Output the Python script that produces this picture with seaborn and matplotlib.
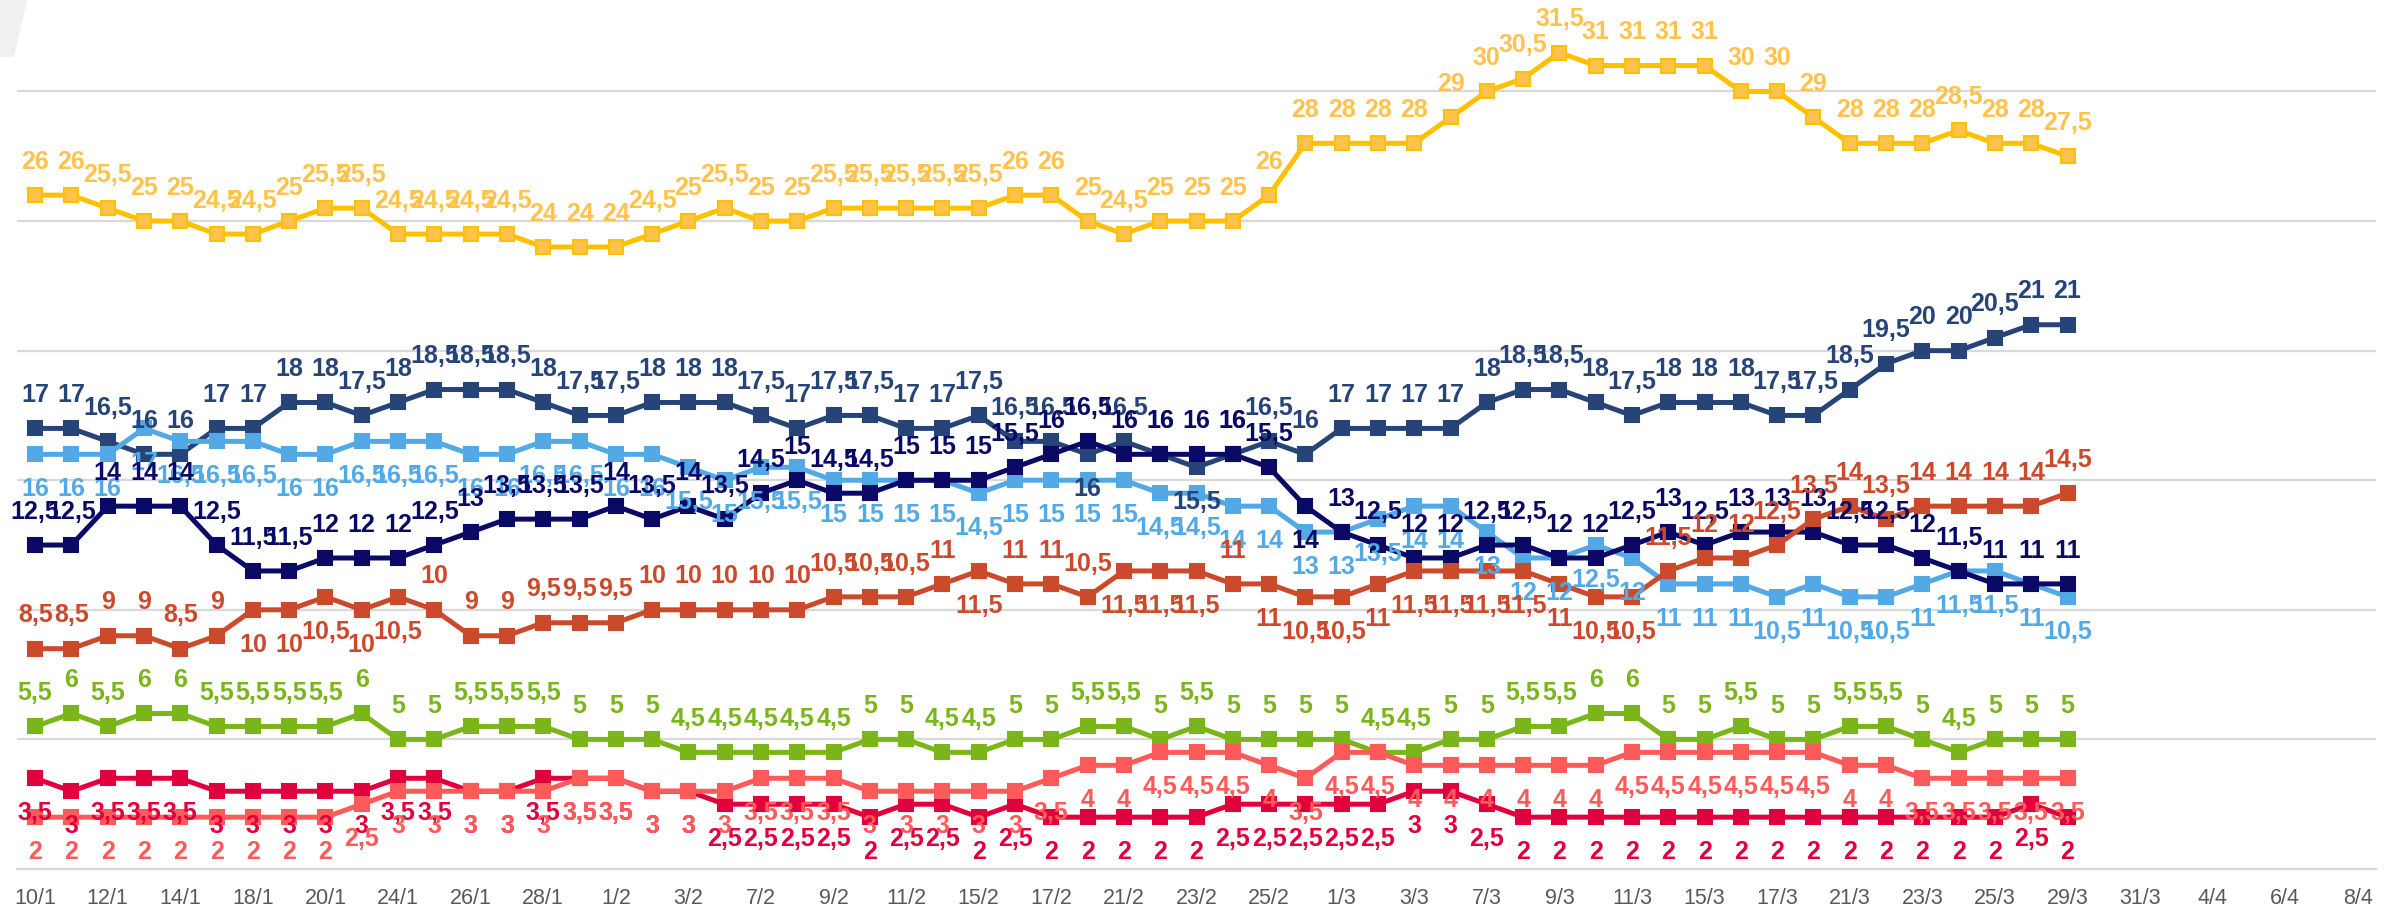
import matplotlib
matplotlib.use('Agg')
import matplotlib.pyplot as plt
from matplotlib.patches import Polygon
import seaborn as sns
import pandas as pd

# business days on the category axis (only every other one is labelled)
dates = ['10/1', '11/1', '12/1', '13/1', '14/1', '17/1', '18/1', '19/1', '20/1', '21/1',
         '24/1', '25/1', '26/1', '27/1', '28/1', '31/1',
         '1/2', '2/2', '3/2', '4/2', '7/2', '8/2', '9/2', '10/2', '11/2', '14/2',
         '15/2', '16/2', '17/2', '18/2', '21/2', '22/2', '23/2', '24/2', '25/2', '28/2',
         '1/3', '2/3', '3/3', '4/3', '7/3', '8/3', '9/3', '10/3', '11/3', '14/3',
         '15/3', '16/3', '17/3', '18/3', '21/3', '22/3', '23/3', '24/3', '25/3', '28/3',
         '29/3', '30/3', '31/3',
         '1/4', '4/4', '5/4', '6/4', '7/4', '8/4']

yellow = [26, 26, 25.5, 25, 25, 24.5, 24.5, 25, 25.5, 25.5, 24.5, 24.5, 24.5, 24.5, 24, 24, 24,
          24.5, 25, 25.5, 25, 25, 25.5, 25.5, 25.5, 25.5, 25.5, 26, 26, 25, 24.5, 25, 25, 25,
          26, 28, 28, 28, 28, 29, 30, 30.5, 31.5, 31, 31, 31, 31, 30, 30, 29, 28, 28, 28, 28.5,
          28, 28, 27.5]
slate = [17, 17, 16.5, 16, 16, 17, 17, 18, 18, 17.5, 18, 18.5, 18.5, 18.5, 18, 17.5, 17.5,
         18, 18, 18, 17.5, 17, 17.5, 17.5, 17, 17, 17.5, 16.5, 16.5, 16, 16.5, 16, 15.5, 16,
         16.5, 16, 17, 17, 17, 17, 18, 18.5, 18.5, 18, 17.5, 18, 18, 18, 17.5, 17.5, 18.5,
         19.5, 20, 20, 20.5, 21, 21]
light_blue = [16, 16, 16, 17, 16.5, 16.5, 16.5, 16, 16, 16.5, 16.5, 16.5, 16, 16, 16.5, 16.5,
              16, 16, 15.5, 15, 15.5, 15.5, 15, 15, 15, 15, 14.5, 15, 15, 15, 15, 14.5, 14.5,
              14, 14, 13, 13, 13.5, 14, 14, 13, 12, 12, 12.5, 12, 11, 11, 11, 10.5, 11, 10.5,
              10.5, 11, 11.5, 11.5, 11, 10.5]
navy = [12.5, 12.5, 14, 14, 14, 12.5, 11.5, 11.5, 12, 12, 12, 12.5, 13, 13.5, 13.5, 13.5, 14,
        13.5, 14, 13.5, 14.5, 15, 14.5, 14.5, 15, 15, 15, 15.5, 16, 16.5, 16, 16, 16, 16, 15.5,
        14, 13, 12.5, 12, 12, 12.5, 12.5, 12, 12, 12.5, 13, 12.5, 13, 13, 13, 12.5, 12.5, 12,
        11.5, 11, 11, 11]
red = [8.5, 8.5, 9, 9, 8.5, 9, 10, 10, 10.5, 10, 10.5, 10, 9, 9, 9.5, 9.5, 9.5, 10, 10, 10,
       10, 10, 10.5, 10.5, 10.5, 11, 11.5, 11, 11, 10.5, 11.5, 11.5, 11.5, 11, 11, 10.5, 10.5,
       11, 11.5, 11.5, 11.5, 11.5, 11, 10.5, 10.5, 11.5, 12, 12, 12.5, 13.5, 14, 13.5, 14, 14,
       14, 14, 14.5]
green = [5.5, 6, 5.5, 6, 6, 5.5, 5.5, 5.5, 5.5, 6, 5, 5, 5.5, 5.5, 5.5, 5, 5, 5, 4.5, 4.5, 4.5,
         4.5, 4.5, 5, 5, 4.5, 4.5, 5, 5, 5.5, 5.5, 5, 5.5, 5, 5, 5, 5, 4.5, 4.5, 5, 5, 5.5, 5.5,
         6, 6, 5, 5, 5.5, 5, 5, 5.5, 5.5, 5, 4.5, 5, 5, 5]
crimson = [3.5, 3, 3.5, 3.5, 3.5, 3, 3, 3, 3, 3, 3.5, 3.5, 3, 3, 3.5, 3.5, 3.5, 3, 3, 2.5, 2.5,
           2.5, 2.5, 2, 2.5, 2.5, 2, 2.5, 2, 2, 2, 2, 2, 2.5, 2.5, 2.5, 2.5, 2.5, 3, 3, 2.5, 2,
           2, 2, 2, 2, 2, 2, 2, 2, 2, 2, 2, 2, 2, 2.5, 2]
salmon = [2, 2, 2, 2, 2, 2, 2, 2, 2, 2.5, 3, 3, 3, 3, 3, 3.5, 3.5, 3, 3, 3, 3.5, 3.5, 3.5, 3,
          3, 3, 3, 3, 3.5, 4, 4, 4.5, 4.5, 4.5, 4, 3.5, 4.5, 4.5, 4, 4, 4, 4, 4, 4, 4.5, 4.5,
          4.5, 4.5, 4.5, 4.5, 4, 4, 3.5, 3.5, 3.5, 3.5, 3.5]

# drawing order, colours and where the value labels sit
series = {
    'slate': (slate, '#264478', '#264478', '#264478'),
    'light_blue': (light_blue, '#52A9E6', '#52A9E6', '#52A9E6'),
    'navy': (navy, '#0A0A66', '#0A0A66', '#0A0A66'),
    'red': (red, '#CB4A2B', '#CB4A2B', '#CB4A2B'),
    'green': (green, '#7AB51A', '#7AB51A', '#7AB51A'),
    'crimson': (crimson, '#E0003D', '#E0003D', '#E0003D'),
    'salmon': (salmon, '#FF5A5A', '#FF5A5A', '#FF5A5A'),
    'yellow': (yellow, '#FFC000', '#FFC24D', '#FFC24D'),
}
labels_below = {
    'slate': [29, 32],
    'navy': [35],
    'red': [6, 7, 8, 9, 10, 26, 30, 31, 32, 34, 35, 36, 37, 38, 39, 40, 41, 42, 43, 44],
    'light_blue': 'all', 'crimson': 'all', 'salmon': 'all',
}

rows = []
for name, (vals, _, _, _) in series.items():
    for i, v in enumerate(vals):
        rows.append({'series': name, 'idx': i, 'value': v})
df = pd.DataFrame(rows)

sns.set_style('white')
plt.rcParams['font.family'] = ['Liberation Sans', 'DejaVu Sans']

W, H = 2405, 915
fig = plt.figure(figsize=(W / 100, H / 100), dpi=100)
ax = fig.add_axes([17 / W, 46 / H, (2376 - 17) / W, 1 - 46 / H])

for z, (name, (vals, line_c, face_c, text_c)) in enumerate(series.items()):
    sub = df[df['series'] == name]
    sns.lineplot(data=sub, x='idx', y='value', ax=ax, color=line_c, linewidth=3.6,
                 marker='s', markersize=10.5, markerfacecolor=face_c,
                 markeredgecolor=line_c, markeredgewidth=1.5, zorder=2 + z)

for name, (vals, line_c, face_c, text_c) in series.items():
    below = labels_below.get(name, [])
    for i, v in enumerate(vals):
        is_below = below == 'all' or i in below
        txt = f'{v:g}'.replace('.', ',')
        ax.annotate(txt, (i, v), xytext=(0, -25 if is_below else 24), textcoords='offset points',
                    ha='center', va='center', fontsize=18, fontweight='bold',
                    color=text_c, zorder=20)

ax.set_xlim(-0.5, len(dates) - 0.5)
ax.set_ylim(0, 33.53)
ax.set_yticks(range(0, 35, 5))
ax.set_xticks(range(0, len(dates), 2))
ax.set_xticklabels(dates[::2])
ax.tick_params(axis='x', length=0, pad=14, labelsize=15.5, labelcolor='#595959')
ax.tick_params(axis='y', length=0, labelleft=False)
ax.grid(axis='y', color='#D9D9D9', linewidth=1.6)
ax.grid(axis='x', visible=False)
ax.set_xlabel('')
ax.set_ylabel('')
for s in ['top', 'left', 'right']:
    ax.spines[s].set_visible(False)
ax.spines['bottom'].set_color('#D9D9D9')
ax.spines['bottom'].set_linewidth(1.6)

# grey corner piece left over from the crop
fig.patches.append(Polygon([(0, 1), (27 / W, 1), (14 / W, 1 - 57 / H), (0, 1 - 57 / H)],
                           closed=True, transform=fig.transFigure, facecolor='#F0F0F0',
                           edgecolor='none'))

fig.savefig('out.png', dpi=100)
